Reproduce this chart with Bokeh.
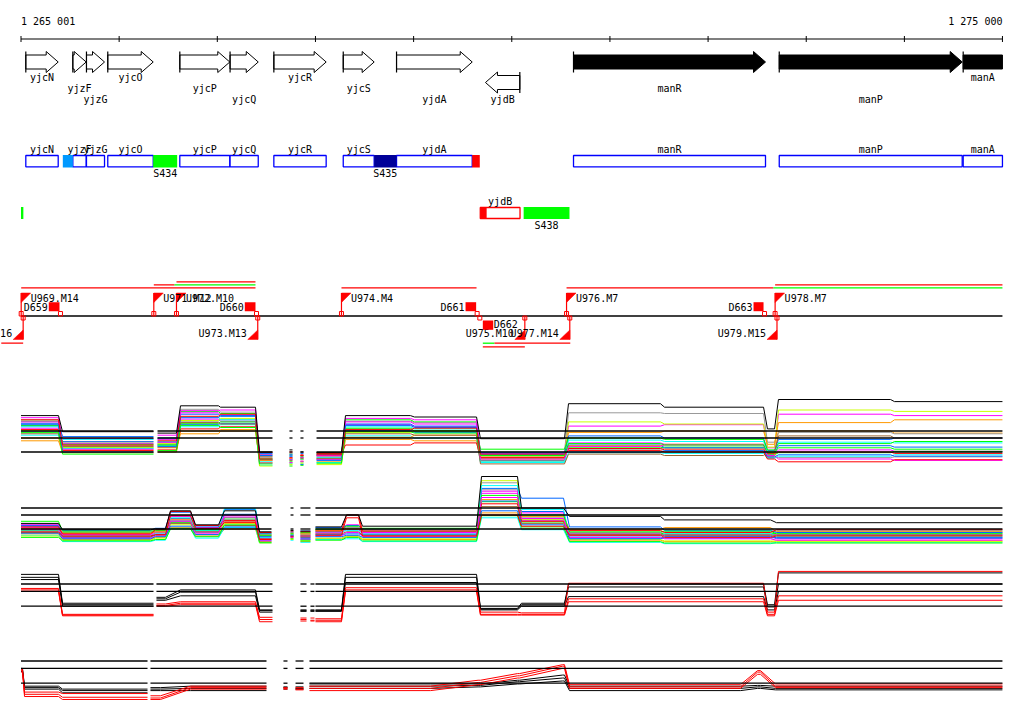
import numpy as np
from bokeh.plotting import figure
from bokeh.models import Range1d
from bokeh.core.properties import value
from bokeh.embed import file_html
from bokeh.resources import INLINE

# ======================= DATA =======================
RULER_START = 1265001
RULER_END = 1275000
RULER_TICKS = [1265001, 1266001, 1267001, 1268001, 1269001, 1270001,
               1271001, 1272001, 1273001, 1274001, 1275000]
RULER_LABELS = ["1 265 001", "1 275 000"]

GENE_NAMES = ["yjcN", "yjzF", "yjzG", "yjcO", "yjcP", "yjcQ", "yjcR",
              "yjcS", "yjdA", "yjdB", "manR", "manP", "manA"]
GENE_START = [1265050, 1265529, 1265668, 1265885, 1266619, 1267131, 1267577,
              1268284, 1268827, 1269733, 1270630, 1272726, 1274600]
GENE_END = [1265380, 1265665, 1265852, 1266348, 1267128, 1267418, 1268110,
            1268599, 1269598, 1270083, 1272586, 1274590, 1275000]
GENE_STRAND = [1, 1, 1, 1, 1, 1, 1, 1, 1, -1, 1, 1, 1]
GENE_KNOWN = [False] * 10 + [True] * 3
GENE_TRUNCATED = [False] * 12 + [True]

# annotated segments (track 2 = + strand, track 3 = - strand)
SEG_NAMES = ["", "S434", "S435", "", "", "", "S438"]
SEG_START = [1265427, 1266348, 1268599, 1269598, 1265001, 1269680, 1270122]
SEG_END = [1265529, 1266592, 1268827, 1269675, 1265025, 1269745, 1270589]
SEG_COLOR = ["#0099ff", "#00ff00", "#000099", "#ff0000", "#00ff00", "#ff0000", "#00ff00"]
SEG_TRACK = [2, 2, 2, 2, 3, 3, 3]
MINUS_BOX = ("yjdB", 1269680, 1270085)

# transcription units
UP_FLAG_NAMES = ["U969.M14", "U971.M12", "U972.M10", "U974.M4", "U976.M7", "U978.M7"]
UP_FLAG_POS = [1265003, 1266354, 1266585, 1268266, 1270559, 1272684]
DOWN_FLAG_NAMES = ["16", "U973.M13", "U975.M10", "U977.M14", "U979.M15"]
DOWN_FLAG_POS = [1265023, 1267413, 1270134, 1270592, 1272703]
TERM_UP_NAMES = ["D659", "D660", "D661", "D663"]
TERM_UP_START = [1265284, 1267281, 1269530, 1272464]
TERM_UP_END = [1265393, 1267390, 1269638, 1272566]
TERM_DOWN_NAMES = ["D662"]
TERM_DOWN_START = [1269706]
TERM_DOWN_END = [1269812]
TU_LINE_START = [1266585, 1266354, 1266565, 1265003, 1268266, 1270559, 1272684,
                 1272667, 1264800, 1269706, 1269825, 1269706]
TU_LINE_END = [1267390, 1266565, 1267390, 1267390, 1269642, 1272667, 1275000,
               1275000, 1265023, 1269825, 1270597, 1270134]
TU_LINE_COLOR = ["#ff0000", "#ff0000", "#00ff00", "#ff0000", "#ff0000", "#ff0000",
                 "#ff0000", "#00ff00", "#ff0000", "#00ff00", "#ff0000", "#ff0000"]
TU_LINE_ROW = [0, 1, 1, 2, 2, 2, 1, 2, 3, 3, 3, 4]

# expression panels (log2 signal); reference levels
REF_LEVELS = [12, 11, 9]

# ---- panel 1 ----
P1_START = [1265001, 1265424, 1266392, 1266626, 1267033, 1267431, 1267736, 1267848, 1268012,
            1268307, 1269010, 1269682, 1270579, 1271557, 1272606, 1272718, 1273900]
P1_END = [1265383, 1266351, 1266585, 1267013, 1267390, 1267563, 1267767, 1267879, 1268266,
          1268969, 1269642, 1270538, 1271516, 1272566, 1272678, 1273860, 1275000]
P1_WIN = [0, 0, 1, 1, 1, 1, 2, 3, 4, 4, 4, 4, 4, 4, 4, 4, 4]
P1_WIN_START = [1265001, 1266392, 1267736, 1267848, 1268012]
P1_WIN_END = [1266351, 1267563, 1267767, 1267879, 1275000]
P1_X1 = [12.4, 10.2, 10.8, 13.7, 13.4, 7.8, 8.1, 8.3, 8.3, 12.9, 12.6, 8.4, 10.3, 10.1, 8.7, 9.3, 9.1]
P1_X2 = [13.4, 9.6, 10.0, 14.8, 14.5, 8.6, 8.7, 8.0, 8.6, 13.6, 13.3, 8.1, 9.6, 9.7, 8.6, 8.9, 9.1]
P1_X3 = [12.0, 10.5, 10.3, 12.9, 13.1, 7.9, 7.9, 7.6, 8.0, 12.1, 11.8, 7.8, 10.0, 9.6, 8.9, 9.9, 9.7]
P1_X4 = [10.6, 8.9, 9.0, 12.0, 12.2, 7.5, 7.4, 7.6, 7.6, 10.8, 10.6, 7.7, 9.9, 10.1, 8.4, 12.0, 11.7]
P1_X5 = [12.7, 9.9, 10.1, 13.4, 13.6, 8.1, 8.5, 8.2, 8.5, 12.3, 12.0, 8.6, 9.4, 9.5, 8.2, 8.2, 8.3]
P1_X6 = [11.4, 9.5, 9.9, 12.6, 12.9, 7.1, 7.3, 7.3, 7.5, 11.3, 11.0, 7.5, 8.9, 8.8, 8.1, 8.4, 8.6]
P1_GRAY = [13.6, 10.4, 10.9, 15.1, 14.7, 8.3, 8.8, 8.5, 8.4, 13.4, 13.2, 9.0, 14.6, 14.5, 10.4, 11.8, 11.6]
P1_MAGENTA = [13.9, 10.9, 11.4, 14.9, 15.0, 8.6, 8.0, 8.2, 8.5, 13.8, 13.6, 8.8, 12.7, 12.9, 9.6, 14.4, 14.2]
P1_YGREEN = [12.1, 9.7, 10.2, 13.5, 13.8, 7.0, 7.2, 7.4, 7.2, 11.8, 12.1, 8.3, 13.3, 13.0, 9.7, 15.0, 14.8]
P1_ORANGE = [11.0, 9.3, 9.6, 11.6, 12.0, 7.8, 8.1, 7.9, 8.0, 11.1, 11.4, 8.0, 11.8, 12.0, 10.1, 13.2, 13.6]
P1_BLUE = [13.1, 11.2, 11.0, 14.4, 14.1, 8.5, 8.6, 8.8, 8.7, 13.0, 12.7, 8.7, 11.3, 11.0, 9.2, 10.8, 11.0]
P1_CYAN = [12.6, 10.8, 10.5, 14.0, 13.6, 7.6, 8.3, 8.0, 8.2, 12.6, 12.3, 7.6, 10.7, 10.5, 9.0, 10.4, 10.3]
P1_GREEN = [12.8, 10.1, 10.0, 13.1, 13.3, 8.0, 7.6, 8.4, 8.9, 12.4, 12.0, 9.4, 11.0, 10.8, 9.3, 10.2, 10.5]
P1_RED = [12.2, 9.2, 9.3, 12.3, 12.6, 8.9, 9.0, 8.6, 8.8, 10.0, 10.3, 8.2, 9.5, 9.3, 8.8, 9.0, 8.8]
P1_BROWN = [11.6, 9.8, 9.7, 13.2, 13.0, 8.3, 7.8, 8.1, 8.1, 11.6, 11.4, 7.3, 8.7, 8.5, 9.0, 11.3, 11.0]
P1_MAGENTA2 = [13.3, 9.4, 10.4, 14.6, 14.3, 7.4, 7.5, 7.7, 7.9, 13.3, 13.0, 8.0, 9.8, 10.0, 8.5, 8.0, 7.8]
P1_BLUE2 = [12.9, 9.0, 9.8, 13.9, 14.2, 8.8, 8.4, 7.2, 7.8, 12.8, 12.5, 8.9, 9.0, 9.2, 8.3, 8.6, 8.4]
P1_GREEN2 = [11.8, 8.7, 9.2, 12.8, 12.5, 7.3, 7.0, 7.1, 7.4, 11.9, 11.7, 8.5, 10.2, 10.0, 8.9, 9.6, 9.4]
P1_RED2 = [13.6, 10.0, 10.6, 14.1, 14.4, 8.0, 8.2, 8.5, 8.6, 12.2, 12.4, 8.7, 9.2, 9.0, 8.0, 7.6, 7.9]
P1_BLACK = [14.2, 11.9, 11.7, 15.6, 15.4, 9.0, 9.3, 9.0, 8.9, 14.2, 14.0, 10.9, 15.9, 15.4, 12.3, 16.5, 16.2]

# ---- panel 2 ----
P2_START = [1265001, 1265424, 1266371, 1266524, 1266779, 1267074, 1267431, 1267747, 1267848,
            1268001, 1268317, 1268480, 1269693, 1270100, 1270589, 1271557, 1272698]
P2_END = [1265383, 1266320, 1266473, 1266728, 1267013, 1267390, 1267553, 1267777, 1267950,
          1268266, 1268440, 1269642, 1270059, 1270528, 1271516, 1272637, 1275000]
P2_WIN = [0, 0, 0, 0, 0, 0, 0, 1, 2, 3, 3, 3, 3, 3, 3, 3, 3]
P2_WIN_START = [1265001, 1267747, 1267848, 1268001]
P2_WIN_END = [1267553, 1267777, 1267950, 1275000]
P2_X1 = [9.2, 8.1, 8.4, 10.3, 8.7, 10.1, 7.7, 8.1, 8.1, 8.5, 8.9, 8.4, 14.1, 10.2, 8.0, 8.2, 8.2]
P2_X2 = [8.8, 8.5, 8.7, 9.9, 8.8, 10.3, 8.3, 8.4, 8.4, 8.9, 9.1, 8.6, 12.9, 10.0, 8.4, 8.3, 8.4]
P2_X3 = [9.5, 7.8, 8.2, 10.5, 9.1, 11.1, 7.4, 7.9, 7.5, 8.2, 8.3, 8.2, 13.0, 11.5, 7.7, 7.7, 7.8]
P2_X4 = [8.3, 7.5, 7.8, 9.2, 8.0, 9.0, 7.2, 7.7, 7.2, 7.6, 7.9, 7.5, 11.3, 9.0, 7.4, 7.2, 7.3]
P2_X5 = [9.7, 8.4, 8.5, 10.0, 8.5, 10.0, 8.1, 8.2, 8.3, 8.7, 9.3, 8.6, 14.6, 10.3, 8.5, 8.6, 8.6]
P2_X6 = [8.1, 7.2, 7.4, 9.1, 7.7, 9.2, 7.0, 7.4, 7.1, 7.5, 7.6, 7.2, 10.6, 8.9, 7.1, 6.9, 7.1]
P2_GRAY = [9.0, 8.6, 8.5, 10.2, 9.0, 10.4, 8.2, 8.5, 8.2, 8.9, 9.2, 8.8, 15.6, 10.6, 9.0, 8.9, 8.8]
P2_MAGENTA = [9.6, 8.2, 8.6, 10.8, 9.2, 10.9, 7.6, 8.0, 7.9, 8.4, 9.6, 8.5, 14.4, 11.3, 8.3, 8.0, 7.6]
P2_YGREEN = [8.0, 7.4, 7.7, 9.6, 8.2, 9.8, 7.0, 7.5, 7.4, 7.7, 8.0, 7.6, 15.9, 10.4, 7.5, 7.3, 7.2]
P2_ORANGE = [9.1, 8.4, 8.6, 10.4, 9.0, 10.0, 8.0, 8.4, 8.3, 8.8, 9.0, 8.9, 13.2, 10.8, 8.9, 9.2, 8.6]
P2_BLUE = [9.4, 8.8, 9.1, 11.4, 9.3, 11.8, 8.4, 8.6, 8.7, 9.2, 9.5, 9.0, 14.8, 13.4, 9.3, 8.8, 8.5]
P2_CYAN = [8.7, 8.0, 8.3, 10.6, 8.8, 11.9, 7.8, 8.2, 8.0, 8.6, 8.8, 8.3, 15.2, 11.8, 8.0, 8.4, 7.9]
P2_GREEN = [10.1, 8.7, 8.8, 10.0, 8.9, 10.6, 8.1, 8.3, 8.5, 9.0, 9.4, 9.1, 13.8, 11.0, 8.6, 8.7, 8.3]
P2_RED = [9.3, 8.3, 8.9, 11.5, 9.5, 10.2, 8.5, 8.7, 8.6, 8.7, 11.0, 8.7, 12.6, 10.1, 8.8, 8.5, 8.9]
P2_BROWN = [8.5, 7.9, 8.1, 9.8, 8.6, 9.5, 7.6, 8.1, 7.8, 8.3, 8.6, 8.1, 12.2, 9.8, 8.2, 8.1, 8.1]
P2_MAGENTA2 = [8.9, 7.7, 8.0, 10.1, 8.4, 10.7, 7.3, 7.8, 7.6, 8.0, 8.5, 7.9, 13.5, 10.5, 7.8, 7.6, 7.4]
P2_BLUE2 = [8.4, 7.6, 7.9, 9.4, 8.2, 9.3, 7.9, 8.0, 7.7, 7.9, 8.1, 7.8, 11.6, 9.6, 7.6, 7.9, 7.7]
P2_GREEN2 = [7.8, 7.3, 7.5, 9.0, 7.9, 9.6, 7.1, 7.6, 7.3, 7.4, 7.8, 7.3, 10.9, 9.3, 7.2, 7.0, 7.0]
P2_RED2 = [8.6, 8.0, 8.2, 10.9, 9.1, 9.9, 7.5, 7.9, 8.0, 8.1, 10.6, 8.0, 11.0, 9.4, 8.1, 7.8, 8.0]
P2_BLACK = [9.8, 8.9, 9.0, 11.6, 9.6, 11.6, 8.6, 8.8, 8.7, 9.3, 11.0, 9.4, 16.5, 12.0, 10.8, 10.3, 9.9]

# ---- panel 3 ----
P3_START = [1265001, 1265424, 1266381, 1266626, 1267431, 1267848, 1267950, 1268001, 1268307,
            1269682, 1270100, 1270579, 1272606, 1272718]
P3_END = [1265383, 1266351, 1266473, 1267390, 1267563, 1267910, 1267991, 1268266, 1269642,
          1270059, 1270538, 1272566, 1272678, 1275000]
P3_WIN = [0, 0, 1, 1, 1, 2, 3, 4, 4, 4, 4, 4, 4, 4]
P3_WIN_START = [1265001, 1266381, 1267848, 1267950, 1268001]
P3_WIN_END = [1266351, 1267563, 1267910, 1267991, 1275000]
P3_BLACK1 = [13.3, 9.4, 10.2, 11.2, 8.5, 8.5, 8.5, 8.5, 13.3, 8.7, 9.4, 12.0, 9.2, 13.5]
P3_BLACK2 = [12.9, 9.2, 10.0, 10.9, 8.4, 8.4, 8.4, 8.4, 12.9, 8.6, 9.2, 11.6, 8.9, 12.0]
P3_BLACK3 = [12.6, 9.0, 9.8, 10.4, 8.2, 8.3, 8.3, 8.3, 12.2, 8.5, 9.0, 10.3, 8.5, 11.0]
P3_RED1 = [11.4, 7.9, 9.3, 9.6, 7.5, 7.4, 7.4, 7.3, 11.5, 8.2, 8.1, 12.1, 8.2, 13.7]
P3_RED2 = [11.2, 7.8, 9.1, 9.4, 7.2, 7.2, 7.1, 7.1, 11.2, 7.9, 7.9, 10.0, 7.9, 10.4]
P3_RED3 = [11.0, 7.7, 9.0, 9.2, 6.9, 7.0, 7.0, 6.9, 11.0, 7.8, 7.8, 9.6, 7.7, 9.8]

# ---- panel 4 ----
P4_START = [1265001, 1265037, 1265424, 1266320, 1266728, 1267675, 1267798, 1267940, 1269658,
            1270059, 1270519, 1270589, 1272505, 1272688]
P4_END = [1265016, 1265383, 1266290, 1266422, 1267502, 1267716, 1267879, 1269173, 1269682,
          1270080, 1270538, 1272331, 1272535, 1275000]
P4_WIN = [0, 0, 0, 1, 1, 2, 3, 4, 4, 4, 4, 4, 4, 4]
P4_WIN_START = [1265001, 1266320, 1267675, 1267798, 1267940]
P4_WIN_END = [1266290, 1267502, 1267716, 1267879, 1275000]
P4_BLACK1 = [11.0, 8.6, 8.2, 8.4, 8.6, 8.5, 8.5, 8.9, 8.9, 9.4, 10.1, 8.6, 8.7, 8.6]
P4_BLACK2 = [10.8, 8.4, 8.0, 8.2, 8.3, 8.4, 8.3, 8.6, 8.7, 9.2, 9.7, 8.3, 8.5, 8.3]
P4_BLACK3 = [10.6, 8.2, 7.7, 8.0, 8.0, 8.2, 8.2, 8.3, 8.5, 8.9, 9.3, 8.0, 8.3, 8.1]
P4_RED1 = [10.9, 7.8, 7.6, 7.3, 8.6, 8.4, 8.4, 8.6, 9.4, 10.3, 11.5, 8.8, 10.7, 8.9]
P4_RED2 = [10.7, 7.5, 7.1, 7.0, 8.4, 8.3, 8.2, 8.3, 9.1, 10.0, 11.3, 8.5, 10.5, 8.6]
P4_RED3 = [10.5, 7.2, 6.8, 6.8, 8.2, 8.2, 8.1, 8.0, 8.8, 9.7, 11.0, 8.3, 10.2, 8.4]

P12_COLORS = ["#ff00ff", "#00ff00", "#0066ff", "#ff9900", "#999999", "#00ffff",
              "#999999", "#ff00ff", "#ccff00", "#ff9900", "#0066ff", "#00ffff", "#00ff00",
              "#ff0000", "#996633", "#ff00ff", "#0066ff", "#00ff00", "#ff0000", "#000000"]
P34_COLORS = ["#000000", "#000000", "#000000", "#ff0000", "#ff0000", "#ff0000"]

# ======================= LAYOUT / STYLE =======================
W, H = 1016, 706
BP_PER_PX = 10.188
ORIGIN_PX = 20.5      # picture x of RULER_START
FONT = "DejaVu Sans Mono"
FS = "10px"


def px(n):
    return n * BP_PER_PX


x_lo = RULER_START - ORIGIN_PX * BP_PER_PX
x_hi = x_lo + W * BP_PER_PX

p = figure(width=W, height=H, output_backend="svg", toolbar_location=None,
           x_range=Range1d(x_lo, x_hi), y_range=Range1d(H, 0),
           x_axis_type=None, y_axis_type=None, min_border=0)
p.outline_line_color = None
p.grid.visible = False
p.background_fill_color = "white"
p.border_fill_color = "white"


def label(xs, ys, texts, align="left", color="black"):
    p.text(x=list(xs), y=list(ys), text=list(texts), text_align=align,
           text_baseline="middle", text_font=value(FONT), text_font_size=FS,
           text_color=color)


# ---- ruler ----
p.segment(x0=[RULER_START], y0=[38.5], x1=[RULER_END], y1=[38.5], line_color="black", line_width=1.2)
p.segment(x0=RULER_TICKS, y0=[35.5] * len(RULER_TICKS), x1=RULER_TICKS,
          y1=[41.5] * len(RULER_TICKS), line_color="black", line_width=1)
label([RULER_START], [20.7], [RULER_LABELS[0]], "left")
label([RULER_END], [20.7], [RULER_LABELS[1]], "right")

# ---- gene arrows ----
FWD_Y, REV_Y = 61.5, 82.0
BODY_H, HEAD_H = 7.0, 10.5
HEAD_BP = px(12)
LABEL_ROWS = [77, 87.5, 98.5]
GENE_LABEL_ROW = [0, 1, 2, 0, 1, 2, 0, 1, 2, 2, 1, 2, 0]

axs, ays, fills, tx, ty0, ty1 = [], [], [], [], [], []
for s, e, st, kn, tr in zip(GENE_START, GENE_END, GENE_STRAND, GENE_KNOWN, GENE_TRUNCATED):
    yc = FWD_Y if st > 0 else REV_Y
    hd = min(HEAD_BP, e - s)
    if tr:
        xs = [s, e, e, s]
        ys = [yc - BODY_H, yc - BODY_H, yc + BODY_H, yc + BODY_H]
    elif st > 0:
        xs = [s, e - hd, e - hd, e, e - hd, e - hd, s]
        ys = [yc - BODY_H, yc - BODY_H, yc - HEAD_H, yc, yc + HEAD_H, yc + BODY_H, yc + BODY_H]
    else:
        xs = [e, s + hd, s + hd, s, s + hd, s + hd, e]
        ys = [yc - BODY_H, yc - BODY_H, yc - HEAD_H, yc, yc + HEAD_H, yc + BODY_H, yc + BODY_H]
    axs.append(xs)
    ays.append(ys)
    fills.append("black" if kn else "white")
    tx.append(s if st > 0 else e)
    ty0.append(yc - HEAD_H)
    ty1.append(yc + HEAD_H)
p.patches(xs=axs, ys=ays, fill_color=fills, line_color="black", line_width=1)
p.segment(x0=tx, y0=ty0, x1=tx, y1=ty1, line_color="black", line_width=1.2)
label([(s + e) / 2 for s, e in zip(GENE_START, GENE_END)],
      [LABEL_ROWS[r] for r in GENE_LABEL_ROW], GENE_NAMES, "center")

# ---- track 2 / 3 boxes ----
T2_TOP, T2_BOT, T2_LAB, T2_SEGLAB = 155, 166.3, 149.3, 172.8
T3_TOP, T3_BOT, T3_LAB, T3_SEGLAB = 207, 218, 200.5, 224.5
plus = [i for i, st in enumerate(GENE_STRAND) if st > 0]
p.quad(left=[GENE_START[i] for i in plus], right=[GENE_END[i] for i in plus],
       top=[T2_TOP] * len(plus), bottom=[T2_BOT] * len(plus),
       fill_color="white", line_color="#0000ff", line_width=1.3)
label([(GENE_START[i] + GENE_END[i]) / 2 for i in plus], [T2_LAB] * len(plus),
      [GENE_NAMES[i] for i in plus], "center")
p.quad(left=[MINUS_BOX[1]], right=[MINUS_BOX[2]], top=[T3_TOP], bottom=[T3_BOT],
       fill_color="white", line_color="#ff0000", line_width=1.3)
label([(MINUS_BOX[1] + MINUS_BOX[2]) / 2], [T3_LAB], [MINUS_BOX[0]], "center")
for s, e, c, t, n in zip(SEG_START, SEG_END, SEG_COLOR, SEG_TRACK, SEG_NAMES):
    top, bot, lab = (T2_TOP, T2_BOT, T2_SEGLAB) if t == 2 else (T3_TOP, T3_BOT, T3_SEGLAB)
    p.quad(left=[s], right=[e], top=[top - 0.6], bottom=[bot + 0.6], fill_color=c, line_color=None)
    if n:
        label([(s + e) / 2], [lab], [n], "center")

# ---- transcription units ----
RED = "#ff0000"
TU_BASE = 315.5
TU_ROW_Y = [281.3, 284.3, 287.3, 342.7, 346.3]
p.segment(x0=[RULER_START], y0=[TU_BASE], x1=[RULER_END], y1=[TU_BASE], line_color="black", line_width=1.3)
p.segment(x0=TU_LINE_START, y0=[TU_ROW_Y[r] for r in TU_LINE_ROW], x1=TU_LINE_END,
          y1=[TU_ROW_Y[r] for r in TU_LINE_ROW], line_color=TU_LINE_COLOR, line_width=1.3)

nu = len(UP_FLAG_POS)
p.segment(x0=UP_FLAG_POS, y0=[TU_BASE] * nu, x1=UP_FLAG_POS, y1=[292.5] * nu, line_color=RED, line_width=1.2)
p.patches(xs=[[x, x + px(9.5), x] for x in UP_FLAG_POS], ys=[[292.5, 292.5, 302]] * nu,
          fill_color=RED, line_color=RED, line_width=0.5)
p.quad(left=[x - px(2) for x in UP_FLAG_POS], right=[x + px(2) for x in UP_FLAG_POS],
       top=[311] * nu, bottom=[TU_BASE] * nu, fill_color=None, line_color=RED, line_width=1)
label([x + px(9.5) for x in UP_FLAG_POS], [298.3] * nu, UP_FLAG_NAMES, "left")

nd = len(DOWN_FLAG_POS)
p.segment(x0=DOWN_FLAG_POS, y0=[TU_BASE] * nd, x1=DOWN_FLAG_POS, y1=[339] * nd, line_color=RED, line_width=1.2)
p.patches(xs=[[x, x, x - px(10)] for x in DOWN_FLAG_POS], ys=[[329.5, 339, 339]] * nd,
          fill_color=RED, line_color=RED, line_width=0.5)
p.quad(left=[x - px(2) for x in DOWN_FLAG_POS], right=[x + px(2) for x in DOWN_FLAG_POS],
       top=[TU_BASE] * nd, bottom=[319.5] * nd, fill_color=None, line_color=RED, line_width=1)
label([x - px(11) for x in DOWN_FLAG_POS], [332.5] * nd, DOWN_FLAG_NAMES, "right")

nt = len(TERM_UP_START)
p.quad(left=TERM_UP_START, right=TERM_UP_END, top=[301.7] * nt, bottom=[310.7] * nt,
       fill_color=RED, line_color=None)
p.quad(left=[e - px(1) for e in TERM_UP_END], right=[e + px(3) for e in TERM_UP_END],
       top=[311] * nt, bottom=[TU_BASE] * nt, fill_color=None, line_color=RED, line_width=1)
label([s - px(1) for s in TERM_UP_START], [306.5] * nt, TERM_UP_NAMES, "right")
ntd = len(TERM_DOWN_START)
p.quad(left=TERM_DOWN_START, right=TERM_DOWN_END, top=[320] * ntd, bottom=[329.3] * ntd,
       fill_color=RED, line_color=None)
p.quad(left=[s - px(5) for s in TERM_DOWN_START], right=[s - px(1) for s in TERM_DOWN_START],
       top=[TU_BASE] * ntd, bottom=[319.5] * ntd, fill_color=None, line_color=RED, line_width=1)
label([e + px(0.5) for e in TERM_DOWN_END], [323.5] * ntd, TERM_DOWN_NAMES, "left")


# ---- expression panels ----
def region_path(starts, ends, wins, levels):
    xs, ys, prev = [], [], None
    for s, e, w, v in zip(starts, ends, wins, levels):
        if prev is not None and w != prev:
            xs.append(np.nan)
            ys.append(np.nan)
        xs += [s, e]
        ys += [v, v]
        prev = w
    return np.array(xs, dtype=float), np.array(ys, dtype=float)


def draw_panel(name, ytop, ppu, starts, ends, wins, series, colors, wstart, wend):
    top_val = 12 + ytop / ppu
    bot_val = 12 - (H - ytop) / ppu
    p.extra_y_ranges[name] = Range1d(bot_val, top_val)
    for lv, c in zip(series, colors):
        xs, ys = region_path(starts, ends, wins, lv)
        p.line(xs, ys, line_color=c, line_width=1, y_range_name=name)
    for lvl in REF_LEVELS:
        p.multi_line(xs=[[a, b] for a, b in zip(wstart, wend)], ys=[[lvl, lvl]] * len(wstart),
                     line_color="black", line_width=1.3, y_range_name=name)


draw_panel("p1", 430.5, 7.0, P1_START, P1_END, P1_WIN,
           [P1_X1, P1_X2, P1_X3, P1_X4, P1_X5, P1_X6,
            P1_GRAY, P1_MAGENTA, P1_YGREEN, P1_ORANGE, P1_BLUE, P1_CYAN, P1_GREEN, P1_RED,
            P1_BROWN, P1_MAGENTA2, P1_BLUE2, P1_GREEN2, P1_RED2, P1_BLACK],
           P12_COLORS, P1_WIN_START, P1_WIN_END)
draw_panel("p2", 507.5, 7.0, P2_START, P2_END, P2_WIN,
           [P2_X1, P2_X2, P2_X3, P2_X4, P2_X5, P2_X6,
            P2_GRAY, P2_MAGENTA, P2_YGREEN, P2_ORANGE, P2_BLUE, P2_CYAN, P2_GREEN, P2_RED,
            P2_BROWN, P2_MAGENTA2, P2_BLUE2, P2_GREEN2, P2_RED2, P2_BLACK],
           P12_COLORS, P2_WIN_START, P2_WIN_END)
draw_panel("p3", 583.5, 7.4, P3_START, P3_END, P3_WIN,
           [P3_BLACK1, P3_BLACK2, P3_BLACK3, P3_RED1, P3_RED2, P3_RED3],
           P34_COLORS, P3_WIN_START, P3_WIN_END)
draw_panel("p4", 660.5, 7.4, P4_START, P4_END, P4_WIN,
           [P4_BLACK1, P4_BLACK2, P4_BLACK3, P4_RED1, P4_RED2, P4_RED3],
           P34_COLORS, P4_WIN_START, P4_WIN_END)

open("out.html", "w").write(file_html(p, INLINE))
